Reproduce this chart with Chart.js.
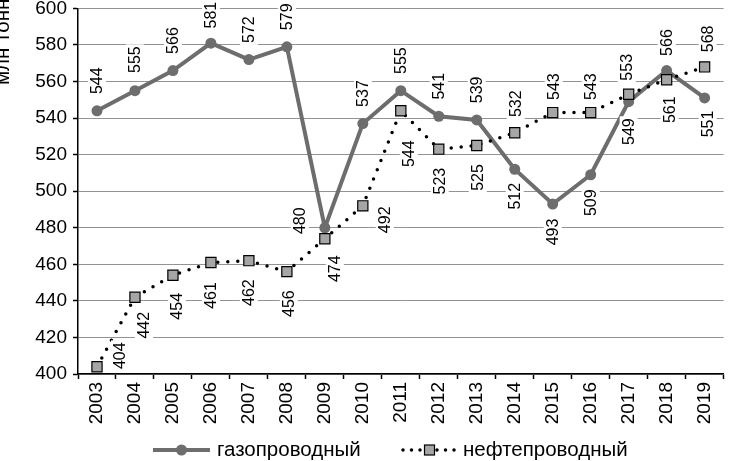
<!DOCTYPE html>
<html>
<head>
<meta charset="utf-8">
<script src="https://cdn.jsdelivr.net/npm/chart.js@4.4.1/dist/chart.umd.min.js"></script>
<style>
  html, body { margin: 0; padding: 0; background: #fff; }
  #wrap { width: 732px; height: 461px; }
</style>
</head>
<body>
<div id="wrap"><canvas id="chart"></canvas></div>
<script>
// --- данные ---
const years = ['2003','2004','2005','2006','2007','2008','2009','2010','2011','2012','2013','2014','2015','2016','2017','2018','2019'];
const gasValues = [544, 555, 566, 581, 572, 579, 480, 537, 555, 541, 539, 512, 493, 509, 549, 566, 551];
const oilValues = [404, 442, 454, 461, 462, 456, 474, 492, 544, 523, 525, 532, 543, 543, 553, 561, 568];
const seriesNames = ['газопроводный', 'нефтепроводный'];
const yAxisTitle = 'млн тонн';
const yMin = 400, yMax = 600, yStep = 20;

// смещения подписей от точки (dx, dy)
const gasLabelShift = [[0,-30],[0,-31],[0,-30],[0,-28],[0,-30],[0,-30],[-25,-7],[0,-30],[0,-30],[0,-30],[0,-30],
  [0,27],[0,28],[0,28],[0,30],[0,-28],[3,26]];
const oilLabelShift = [[23,-11],[9,28],[4,31],[0,33],[0,32],[2,32],[10,30],[22,14],[8,43],[1,32],[1,32],
  [1,-29],[1,-26],[0,-26],[-2,-27],[3,30],[3,-28]];

const FONT = '"Liberation Sans", Arial, sans-serif';
const GAS = '#6d6d6d';
const OIL_FILL = '#a6a6a6';

const pointLabels = {
  id: 'pointLabels',
  afterDatasetsDraw(chart) {
    const ctx = chart.ctx;
    ctx.save();
    ctx.font = '16px ' + FONT;
    chart.data.datasets.forEach((ds, di) => {
      const meta = chart.getDatasetMeta(di);
      meta.data.forEach((pt, i) => {
        const txt = String(ds.data[i]);
        const [dx, dy] = ds.labelShift[i];
        const cx = pt.x + dx, cy = pt.y + dy;
        const w = ctx.measureText(txt).width;
        ctx.fillStyle = '#fff';
        ctx.fillRect(cx - 9, cy - w / 2 - 2, 18, w + 4);
        ctx.save();
        ctx.translate(cx, cy);
        ctx.rotate(-Math.PI / 2);
        ctx.fillStyle = '#000';
        ctx.textAlign = 'center';
        ctx.textBaseline = 'middle';
        ctx.fillText(txt, 0, 1);
        ctx.restore();
      });
    });
    ctx.restore();
  }
};

const extras = {
  id: 'extras',
  afterDraw(chart) {
    const ctx = chart.ctx;
    ctx.save();
    // подпись оси Y
    ctx.font = '20.5px ' + FONT;
    ctx.fillStyle = '#000';
    ctx.translate(9, 85);
    ctx.rotate(-Math.PI / 2);
    ctx.textAlign = 'left';
    ctx.textBaseline = 'alphabetic';
    ctx.fillText(yAxisTitle, 0, 0);
    ctx.restore();

    // легенда
    ctx.save();
    const ly = 450;
    ctx.strokeStyle = GAS;
    ctx.lineWidth = 4;
    ctx.beginPath(); ctx.moveTo(153, ly); ctx.lineTo(210, ly); ctx.stroke();
    ctx.fillStyle = GAS;
    ctx.beginPath(); ctx.arc(181.5, ly, 5.5, 0, Math.PI * 2); ctx.fill();

    ctx.strokeStyle = '#000';
    ctx.lineWidth = 3.5;
    ctx.lineCap = 'round';
    ctx.setLineDash([0, 8.5]);
    ctx.beginPath(); ctx.moveTo(403, ly); ctx.lineTo(457, ly); ctx.stroke();
    ctx.setLineDash([]);
    ctx.fillStyle = OIL_FILL;
    ctx.fillRect(424.5, ly - 5, 10, 10);
    ctx.lineWidth = 1.2;
    ctx.strokeRect(424.5, ly - 5, 10, 10);

    ctx.font = '20.5px ' + FONT;
    ctx.fillStyle = '#000';
    ctx.textBaseline = 'middle';
    ctx.fillText(seriesNames[0], 217, ly);
    ctx.fillText(seriesNames[1], 463, ly);
    ctx.restore();
  }
};

new Chart(document.getElementById('chart'), {
  type: 'line',
  data: {
    labels: years,
    datasets: [
      {
        label: seriesNames[0],
        data: gasValues,
        labelShift: gasLabelShift,
        order: 1,
        borderColor: GAS,
        backgroundColor: GAS,
        borderWidth: 4,
        pointStyle: 'circle',
        pointRadius: 5.5,
        pointBorderWidth: 0,
        pointBackgroundColor: GAS,
        tension: 0
      },
      {
        label: seriesNames[1],
        data: oilValues,
        labelShift: oilLabelShift,
        order: 0,
        borderColor: '#000',
        borderWidth: 3.5,
        borderDash: [0, 10],
        borderCapStyle: 'round',
        pointStyle: 'rect',
        pointRadius: 7.2,
        pointBorderWidth: 1.2,
        pointBorderColor: '#000',
        pointBackgroundColor: OIL_FILL,
        tension: 0
      }
    ]
  },
  options: {
    responsive: true,
    maintainAspectRatio: false,
    animation: false,
    layout: { padding: { top: 7, right: 1, left: 0, bottom: 0 } },
    plugins: {
      legend: { display: false },
      tooltip: { enabled: false }
    },
    scales: {
      x: {
        offset: true,
        grid: { offset: true, drawOnChartArea: false, tickLength: 5, tickColor: '#000', tickWidth: 1.5 },
        border: { color: '#000', width: 1.5 },
        ticks: { color: '#000', font: { family: FONT, size: 19 }, minRotation: 90, maxRotation: 90, padding: 3 },
        afterFit(scale) { scale.height = 87; scale.paddingLeft = 0; scale.paddingRight = 0; }
      },
      y: {
        min: yMin,
        max: yMax,
        ticks: { stepSize: yStep, color: '#000', font: { family: FONT, size: 19 }, padding: 6 },
        grid: { color: '#939393', lineWidth: 1, tickLength: 5, tickColor: '#000', tickWidth: 1.5 },
        border: { color: '#000', width: 1.5 },
        afterFit(scale) { scale.width = 78; scale.paddingTop = 0; scale.paddingBottom = 0; }
      }
    }
  },
  plugins: [pointLabels, extras]
});
</script>
</body>
</html>
